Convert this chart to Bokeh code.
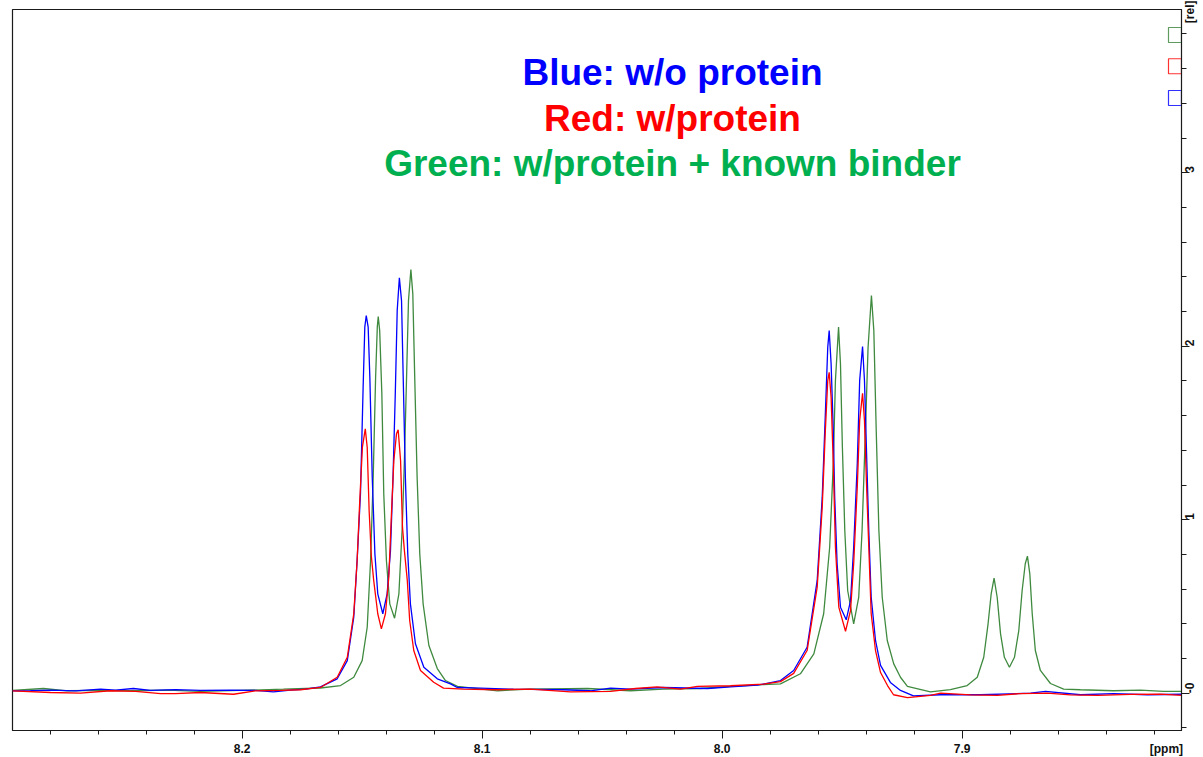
import math
from bokeh.plotting import figure
from bokeh.models import Range1d, FixedTicker, Label, LinearAxis, CustomLabelingPolicy
from bokeh.embed import file_html
from bokeh.resources import INLINE

# ---------------- data ----------------
blue_ppm = [8.2957, 8.2882, 8.2799, 8.2695, 8.2590, 8.2528, 8.2453, 8.2382, 8.2278, 8.2174,
            8.2049, 8.1945, 8.1870, 8.1799, 8.1736, 8.1674, 8.1604, 8.1562, 8.1535, 8.1521,
            8.1507, 8.1496, 8.1489, 8.1483, 8.1475, 8.1468, 8.1458, 8.1447, 8.1435, 8.1414,
            8.1396, 8.1382, 8.1371, 8.1362, 8.1354, 8.1345, 8.1336, 8.1329, 8.1320, 8.1310,
            8.1299, 8.1278, 8.1243, 8.1187, 8.1132, 8.1104, 8.1007, 8.0870, 8.0661, 8.0549,
            8.0465, 8.0382, 8.0245, 8.0061, 7.9965, 7.9853, 7.9757, 7.9702, 7.9646, 7.9604,
            7.9583, 7.9570, 7.9560, 7.9554, 7.9546, 7.9537, 7.9531, 7.9521, 7.9507, 7.9483,
            7.9465, 7.9452, 7.9437, 7.9427, 7.9415, 7.9407, 7.9399, 7.9389, 7.9379, 7.9361,
            7.9340, 7.9299, 7.9257, 7.9203, 7.9090, 7.8924, 7.8715, 7.8653, 7.8507, 7.8370,
            7.8228, 7.8086]
blue_int = [0.013, 0.014, 0.018, 0.013, 0.024, 0.018, 0.027, 0.016, 0.021, 0.016,
            0.018, 0.016, 0.008, 0.018, 0.024, 0.036, 0.083, 0.188, 0.438, 0.765,
            1.151, 1.764, 2.110, 2.177, 2.110, 1.821, 1.245, 0.803, 0.573, 0.458,
            0.573, 0.822, 1.265, 1.726, 2.206, 2.394, 2.263, 1.821, 1.245, 0.803,
            0.515, 0.285, 0.150, 0.083, 0.054, 0.033, 0.029, 0.023, 0.020, 0.014,
            0.029, 0.023, 0.033, 0.027, 0.037, 0.046, 0.073, 0.131, 0.265, 0.650,
            1.130, 1.610, 1.994, 2.090, 1.899, 1.514, 1.130, 0.746, 0.496, 0.423,
            0.534, 0.841, 1.322, 1.802, 1.998, 1.802, 1.418, 0.938, 0.553, 0.304,
            0.160, 0.062, 0.016, -0.015, -0.009, -0.009, 0.000, 0.010, -0.009, -0.003,
            -0.009, -0.006]

red_ppm = [8.2957, 8.2799, 8.2674, 8.2549, 8.2444, 8.2340, 8.2278, 8.2174, 8.2036, 8.1945,
           8.1840, 8.1757, 8.1674, 8.1604, 8.1562, 8.1535, 8.1521, 8.1510, 8.1499, 8.1487,
           8.1479, 8.1471, 8.1462, 8.1452, 8.1435, 8.1420, 8.1403, 8.1389, 8.1378, 8.1368,
           8.1357, 8.1350, 8.1340, 8.1332, 8.1324, 8.1312, 8.1302, 8.1285, 8.1257, 8.1202,
           8.1161, 8.1078, 8.0936, 8.0799, 8.0632, 8.0465, 8.0361, 8.0270, 8.0174, 8.0103,
           7.9965, 7.9828, 7.9757, 7.9702, 7.9646, 7.9604, 7.9583, 7.9570, 7.9560, 7.9554,
           7.9546, 7.9537, 7.9528, 7.9514, 7.9486, 7.9465, 7.9452, 7.9437, 7.9427, 7.9415,
           7.9407, 7.9399, 7.9389, 7.9379, 7.9361, 7.9340, 7.9311, 7.9286, 7.9228, 7.9132,
           7.9090, 7.8965, 7.8853, 7.8757, 7.8645, 7.8549, 7.8436, 7.8299, 7.8174, 7.8086]
red_int = [0.013, 0.004, 0.000, 0.014, 0.010, -0.002, -0.002, 0.004, -0.006, 0.013,
           0.016, 0.020, 0.033, 0.092, 0.207, 0.458, 0.765, 1.111, 1.418, 1.524,
           1.418, 1.053, 0.794, 0.650, 0.458, 0.371, 0.458, 0.669, 1.034, 1.341,
           1.495, 1.518, 1.341, 0.957, 0.822, 0.650, 0.419, 0.246, 0.131, 0.063,
           0.029, 0.023, 0.020, 0.024, 0.008, 0.010, 0.027, 0.037, 0.024, 0.039,
           0.043, 0.052, 0.067, 0.114, 0.246, 0.611, 1.072, 1.514, 1.802, 1.850,
           1.706, 1.322, 0.841, 0.496, 0.357, 0.477, 0.746, 1.187, 1.572, 1.729,
           1.572, 1.226, 0.841, 0.458, 0.246, 0.119, 0.044, -0.009, -0.025, -0.012,
           0.000, -0.010, -0.012, -0.002, 0.000, -0.010, -0.012, -0.007, -0.005, -0.012]

green_ppm = [8.2957, 8.2828, 8.2728, 8.2590, 8.2453, 8.2311, 8.2174, 8.2007, 8.1828, 8.1674,
             8.1590, 8.1535, 8.1500, 8.1479, 8.1465, 8.1454, 8.1444, 8.1437, 8.1433, 8.1427,
             8.1418, 8.1410, 8.1399, 8.1385, 8.1365, 8.1347, 8.1333, 8.1324, 8.1315, 8.1307,
             8.1297, 8.1289, 8.1281, 8.1271, 8.1260, 8.1246, 8.1222, 8.1187, 8.1153, 8.1103,
             8.0936, 8.0799, 8.0561, 8.0382, 8.0245, 8.0090, 7.9965, 7.9828, 7.9757, 7.9674,
             7.9618, 7.9577, 7.9552, 7.9537, 7.9528, 7.9515, 7.9507, 7.9499, 7.9489, 7.9477,
             7.9452, 7.9431, 7.9417, 7.9403, 7.9392, 7.9378, 7.9368, 7.9358, 7.9347, 7.9333,
             7.9312, 7.9285, 7.9257, 7.9228, 7.9132, 7.9049, 7.8979, 7.8937, 7.8910, 7.8892,
             7.8879, 7.8867, 7.8854, 7.8840, 7.8824, 7.8803, 7.8782, 7.8764, 7.8750, 7.8737,
             7.8728, 7.8718, 7.8708, 7.8695, 7.8674, 7.8632, 7.8577, 7.8507, 7.8370, 7.8257,
             7.8161, 7.8086]
green_int = [0.016, 0.027, 0.014, 0.016, 0.014, 0.018, 0.010, 0.016, 0.023, 0.030,
             0.044, 0.092, 0.188, 0.380, 0.765, 1.245, 1.821, 2.110, 2.171, 2.090,
             1.726, 1.149, 0.765, 0.515, 0.432, 0.573, 0.957, 1.341, 1.821, 2.263,
             2.442, 2.302, 1.821, 1.245, 0.803, 0.515, 0.275, 0.142, 0.073, 0.039,
             0.014, 0.024, 0.027, 0.014, 0.023, 0.027, 0.039, 0.050, 0.054, 0.112,
             0.227, 0.458, 0.841, 1.322, 1.802, 2.110, 1.899, 1.418, 0.938, 0.592,
             0.400, 0.553, 0.938, 1.514, 1.994, 2.292, 2.090, 1.514, 0.938, 0.553,
             0.304, 0.169, 0.092, 0.039, 0.008, 0.021, 0.044, 0.092, 0.207, 0.400,
             0.573, 0.663, 0.553, 0.342, 0.207, 0.150, 0.207, 0.361, 0.592, 0.746,
             0.790, 0.688, 0.458, 0.246, 0.131, 0.056, 0.024, 0.020, 0.014, 0.018,
             0.010, 0.010]

x_major_ticks = [8.2, 8.1, 8.0, 7.9]
x_minor_ticks = [round(8.28 - 0.02 * i, 2) for i in range(24)]
x_unit_label = "[ppm]"
x_unit_pos = 7.8149
y_major_ticks = [0, 1, 2, 3]
y_minor_ticks = [round(-0.2 + 0.2 * i, 1) for i in range(21)]
y_tick_labels = ["-0", "1", "2", "3"]
y_unit_label = "[rel]"
y_unit_pos = 3.885

title_lines = ["Blue: w/o protein", "Red: w/protein", "Green: w/protein + known binder"]
title_colors = ["#0000ff", "#ff0000", "#00b050"]
title_levels = [3.575, 3.315, 3.056]
title_center = 8.0207
marker_colors = ["#5f9a5f", "#ff3030", "#3030ff"]
marker_levels = [3.794, 3.614, 3.431]

X_START, X_END = 8.2957, 7.8086
Y_START, Y_END = -0.215, 3.941
FRAME_W, FRAME_H = 1169, 721

FONT = "Liberation Sans"
INK = "#1a1a1a"

# ---------------- figure ----------------
p = figure(frame_width=FRAME_W, frame_height=FRAME_H, output_backend="svg", toolbar_location=None,
           x_range=Range1d(X_START, X_END), y_range=Range1d(Y_START, Y_END),
           y_axis_location="right", min_border_left=12, min_border_top=9,
           min_border_right=0, min_border_bottom=0)
p.xgrid.visible = False
p.ygrid.visible = False
p.outline_line_color = INK
p.outline_line_width = 1.2
p.background_fill_color = "white"
p.border_fill_color = "white"

hide_all = CustomLabelingPolicy(code="""
for (const i of indices)
    indices.unset(i)
""")


def tick_only(ax, ticks, minor, major_len, minor_len):
    ax.ticker = FixedTicker(ticks=ticks, minor_ticks=minor)
    ax.major_tick_out = major_len
    ax.major_tick_in = 0
    ax.minor_tick_out = minor_len
    ax.minor_tick_in = 0
    ax.major_label_policy = hide_all
    ax.major_label_text_font_size = "0px"
    ax.major_label_standoff = 0
    ax.axis_line_color = INK
    ax.major_tick_line_color = INK
    ax.minor_tick_line_color = INK


def label_only(ax, ticks, labels, standoff, size):
    ax.ticker = FixedTicker(ticks=ticks, minor_ticks=[])
    ax.major_label_overrides = dict(zip(ticks, labels))
    ax.major_tick_out = 0
    ax.major_tick_in = 0
    ax.minor_tick_out = 0
    ax.minor_tick_in = 0
    ax.axis_line_color = None
    ax.major_tick_line_color = None
    ax.minor_tick_line_color = None
    ax.major_label_standoff = standoff
    ax.major_label_text_font = FONT
    ax.major_label_text_font_style = "bold"
    ax.major_label_text_font_size = size
    ax.major_label_text_color = "#111111"


# x axis: tick marks next to the frame, labels on a second axis just below
tick_only(p.xaxis[0], x_major_ticks, x_minor_ticks, 8, 4)
xl = LinearAxis()
label_only(xl, x_major_ticks + [x_unit_pos],
           [f"{t:.1f}" for t in x_major_ticks] + [x_unit_label], 3, "12px")
p.add_layout(xl, "below")

# y axis (right)
tick_only(p.yaxis[0], y_major_ticks, y_minor_ticks, 8, 5)
yl = LinearAxis()
label_only(yl, y_major_ticks + [y_unit_pos], y_tick_labels + [y_unit_label], 1, "12px")
yl.major_label_orientation = math.pi / 2
p.add_layout(yl, "right")

# spectra
p.line(green_ppm, green_int, line_color="#3f8a3f", line_width=1.3)
p.line(blue_ppm, blue_int, line_color="#0000ff", line_width=1.3)
p.line(red_ppm, red_int, line_color="#ff0000", line_width=1.3)

# spectrum markers at the upper right edge
px_per_ppm = FRAME_W / (X_START - X_END)
mx = X_END + 6.5 / px_per_ppm
p.rect(x=[mx] * 3, y=marker_levels, width=13, height=15, width_units="screen",
       height_units="screen", fill_color=None, line_color=marker_colors, line_width=1.2)

# title texts
for txt, col, ty in zip(title_lines, title_colors, title_levels):
    p.add_layout(Label(x=title_center, y=ty, text=txt, text_color=col, text_align="center",
                       text_baseline="alphabetic", text_font=FONT,
                       text_font_style="bold", text_font_size="37px"))

open("out.html", "w").write(file_html(p, INLINE))
